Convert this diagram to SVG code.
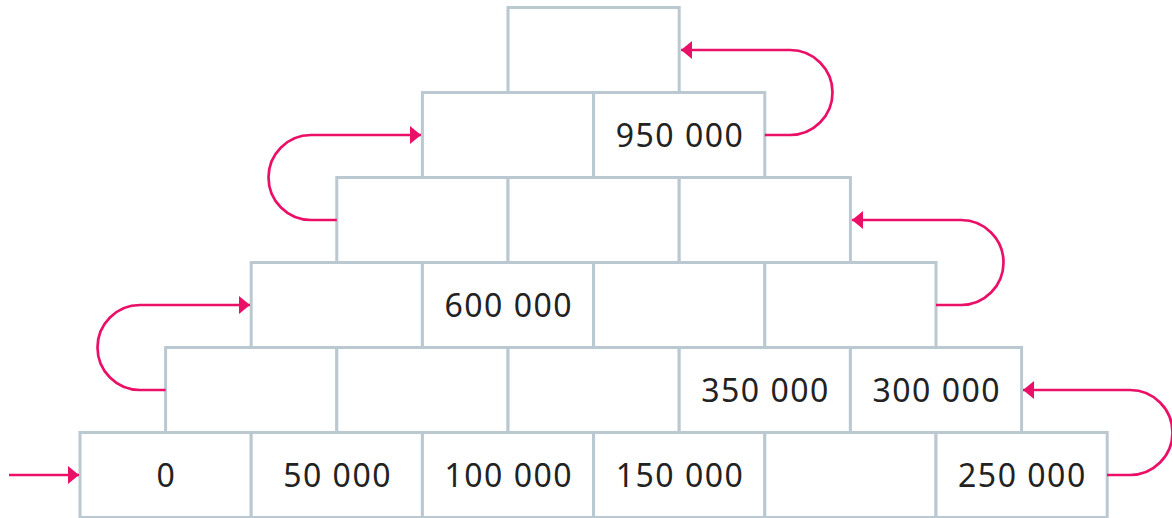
<svg xmlns="http://www.w3.org/2000/svg" width="1172" height="518" viewBox="0 0 1172 518">
<style>
.c{fill:#fff;stroke:#b9c8d1;stroke-width:3}
.t{font-family:"Noto Sans","Open Sans",sans-serif;font-size:32px;letter-spacing:1.5px;fill:#222;text-anchor:middle}
.a{fill:none;stroke:#ea1068;stroke-width:2.7;marker-end:url(#ah)}
</style>
<defs>
<marker id="ah" markerUnits="userSpaceOnUse" markerWidth="12" markerHeight="18" refX="11" refY="9" orient="auto">
<path d="M0,0 L11,9 L0,18 z" fill="#ea1068"/>
</marker>
</defs>
<rect width="1172" height="518" fill="#fff"/>
<g id="row0">
<g id="n0_0"><rect class="c" x="80" y="432.5" width="171.2" height="85"/><text class="t" x="166.4" y="486.5">0</text></g>
<g id="n0_1"><rect class="c" x="251.2" y="432.5" width="171.2" height="85"/><text class="t" x="337.6" y="486.5">50 000</text></g>
<g id="n0_2"><rect class="c" x="422.4" y="432.5" width="171.2" height="85"/><text class="t" x="508.8" y="486.5">100 000</text></g>
<g id="n0_3"><rect class="c" x="593.6" y="432.5" width="171.2" height="85"/><text class="t" x="680" y="486.5">150 000</text></g>
<g id="n0_4"><rect class="c" x="764.8" y="432.5" width="171.2" height="85"/></g>
<g id="n0_5"><rect class="c" x="936" y="432.5" width="171.2" height="85"/><text class="t" x="1022.4" y="486.5">250 000</text></g>
</g>
<g id="row1">
<g id="n1_0"><rect class="c" x="165.6" y="347.5" width="171.2" height="85"/></g>
<g id="n1_1"><rect class="c" x="336.8" y="347.5" width="171.2" height="85"/></g>
<g id="n1_2"><rect class="c" x="508" y="347.5" width="171.2" height="85"/></g>
<g id="n1_3"><rect class="c" x="679.2" y="347.5" width="171.2" height="85"/><text class="t" x="765.6" y="401.5">350 000</text></g>
<g id="n1_4"><rect class="c" x="850.4" y="347.5" width="171.2" height="85"/><text class="t" x="936.8" y="401.5">300 000</text></g>
</g>
<g id="row2">
<g id="n2_0"><rect class="c" x="251.2" y="262.5" width="171.2" height="85"/></g>
<g id="n2_1"><rect class="c" x="422.4" y="262.5" width="171.2" height="85"/><text class="t" x="508.8" y="316.5">600 000</text></g>
<g id="n2_2"><rect class="c" x="593.6" y="262.5" width="171.2" height="85"/></g>
<g id="n2_3"><rect class="c" x="764.8" y="262.5" width="171.2" height="85"/></g>
</g>
<g id="row3">
<g id="n3_0"><rect class="c" x="336.8" y="177.5" width="171.2" height="85"/></g>
<g id="n3_1"><rect class="c" x="508" y="177.5" width="171.2" height="85"/></g>
<g id="n3_2"><rect class="c" x="679.2" y="177.5" width="171.2" height="85"/></g>
</g>
<g id="row4">
<g id="n4_0"><rect class="c" x="422.4" y="92.5" width="171.2" height="85"/></g>
<g id="n4_1"><rect class="c" x="593.6" y="92.5" width="171.2" height="85"/><text class="t" x="680" y="146.5">950 000</text></g>
</g>
<g id="row5">
<g id="n5_0"><rect class="c" x="508" y="7.5" width="171.2" height="85"/></g>
</g>
<g id="connectors">
<path class="a" d="M9,475 H79"/>
<path class="a" d="M1107,475 H1130 A42.5,42.5 0 0 0 1130,390 H1023"/>
<path class="a" d="M165.6,390 H140 A42.5,42.5 0 0 1 140,305 H250"/>
<path class="a" d="M936,305 H961 A42.5,42.5 0 0 0 961,220 H852"/>
<path class="a" d="M336.8,220 H311 A42.5,42.5 0 0 1 311,135 H421"/>
<path class="a" d="M764.8,135 H790 A42.5,42.5 0 0 0 790,50 H681"/>
</g>
</svg>
